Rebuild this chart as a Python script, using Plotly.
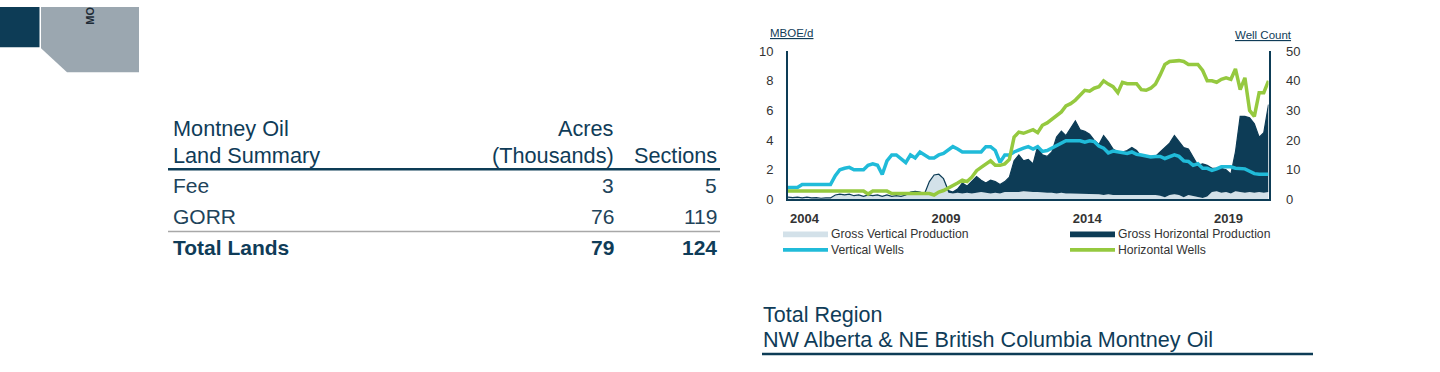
import plotly.graph_objects as go
import pandas as pd

# ---------------- data ----------------
table_header_left = ["Montney Oil", "Land Summary"]
table_col_acres_hdr = ["Acres", "(Thousands)"]
table_col_sections_hdr = "Sections"
table_rows = ["Fee", "GORR", "Total Lands"]
table_acres = [3, 76, 79]
table_sections = [5, 119, 124]

dates = pd.date_range(start="2003-06-01", periods=103, freq="2MS")

gross_vertical_prod = [
    0.15, 0.12, 0.15, 0.1, 0.15, 0.1, 0.12, 0.08, 0.1, 0.1,
    0.3, 0.35, 0.3, 0.35, 0.25, 0.3, 0.2, 0.3, 0.25, 0.3,
    0.2, 0.3, 0.2, 0.25, 0.2, 0.3, 0.4, 0.3, 0.3, 0.35,
    1.2, 1.65, 1.7, 1.4, 0.45, 0.4, 0.45, 0.4, 0.45, 0.4,
    0.45, 0.5, 0.45, 0.4, 0.45, 0.4, 0.5, 0.5, 0.45, 0.5,
    0.55, 0.5, 0.5, 0.5, 0.45, 0.45, 0.45, 0.4, 0.45, 0.4,
    0.4, 0.4, 0.4, 0.35, 0.35, 0.35, 0.35, 0.3, 0.35, 0.3,
    0.3, 0.3, 0.35, 0.3, 0.3, 0.3, 0.3, 0.35, 0.3, 0.25,
    0.15, 0.3, 0.35, 0.3, 0.15, 0.3, 0.25, 0.15, 0.1, 0.2,
    0.5, 0.55, 0.45, 0.5, 0.4, 0.55, 0.5, 0.45, 0.5, 0.45,
    0.5, 0.45, 0.5]

gross_horizontal_prod = [
    0, 0, 0, 0, 0, 0, 0, 0, 0, 0,
    0, 0, 0, 0, 0, 0, 0, 0, 0, 0,
    0, 0, 0, 0, 0, 0, 0.1, 0.25, 0.2, 0.05,
    0, 0, 0, 0, 0.15, 0.1, 0.25, 0.7, 0.45, 0.8,
    1.1, 0.8, 0.65, 0.9, 0.75, 0.6, 0.7, 1.0, 2.15, 2.5,
    2.05, 2.2, 1.9, 3.1, 2.55, 2.45, 2.75, 3.8, 4.15, 3.9,
    4.4, 4.9, 4.3, 4.25, 4.05, 3.65, 3.35, 4.0, 3.55, 3.1,
    2.9, 2.9, 2.95, 3.2, 3.0, 2.6, 2.6, 2.55, 2.6, 2.95,
    3.35, 3.5, 3.95, 3.6, 3.35, 3.1, 2.55, 2.15, 2.3, 2.1,
    1.6, 1.55, 1.65, 1.5, 1.3, 2.65, 5.1, 5.15, 5.0, 4.65,
    3.7, 4.05, 5.9]

vertical_wells = [
    4, 4, 4, 5, 5, 5, 5, 5, 5, 5,
    8, 10, 10.5, 10.8, 10, 10, 10, 11.5, 12, 11.5,
    8.4, 13, 15, 15, 13.5, 12.4, 15, 14, 16, 15,
    14, 14, 15, 15.5, 16.5, 17.8, 17, 16, 16, 16,
    16, 16, 17.8, 17.8, 16.5, 12.5, 15, 15, 16, 16.8,
    17.3, 17.8, 17, 17.8, 16.2, 16.5, 17.3, 18, 18.8, 19.8,
    19.8, 19.8, 19.8, 19.3, 19.8, 19.5, 18, 17.3, 15.7, 16.3,
    16, 15.8, 15.5, 16, 15.2, 15, 14.5, 14.3, 14.5, 14.5,
    13.8, 14.5, 15, 14.5, 13, 12.8, 11.5, 12, 10.5, 10.5,
    9.8, 10.3, 11, 11, 11, 10.5, 10.3, 10.3, 9.5, 8.7,
    8.5, 8.5, 8.5]

horizontal_wells = [
    2.8, 2.8, 2.8, 2.8, 2.8, 2.8, 2.8, 2.8, 2.8, 2.8,
    2.8, 2.8, 2.8, 2.8, 2.8, 2.8, 2.8, 1.8, 2.8, 2.8,
    2.8, 2.8, 2, 2, 2, 2, 2, 2, 2, 2,
    2, 1.5, 2.5, 3, 3.8, 4.5, 5.5, 6.5, 6, 7.5,
    9.7, 10.8, 12, 13, 11.5, 11.5, 12, 13.5, 21, 22.7,
    22.3, 23, 23.5, 22.5, 25, 25.8, 27, 28.2, 29.5, 31.5,
    32.3, 33.5, 35.2, 36.8, 36.5, 37.5, 38, 40, 38.9, 38,
    36, 39.5, 39, 39, 39, 37, 36.8, 37.5, 38.9, 42,
    45.5, 46.5, 46.8, 46.8, 46.5, 45.5, 45.5, 45.5, 43.5, 40,
    40, 39.5, 40.5, 41, 40.5, 44, 37, 41, 30, 28,
    36, 36, 40]

year_ticks = ["2004", "2009", "2014", "2019"]
left_ticks = [0, 2, 4, 6, 8, 10]
right_ticks = [0, 10, 20, 30, 40, 50]

# ---------------- styling ----------------
W, H = 1440, 372
NAVY = "#0d3c56"
LIGHT = "#d3e1e9"
CYAN = "#20bbd9"
GREEN = "#95c93f"
TXT = "#0f3c58"
ROWTXT = "#21435a"
GRAY_TXT = "#333333"
FONT = "Liberation Sans, Arial, sans-serif"


def px(x):
    return x / W


def py(y):
    return 1 - y / H


fig = go.Figure()

fig.add_trace(go.Scatter(
    x=dates, y=gross_vertical_prod, name="Gross Vertical Production",
    stackgroup="prod", mode="lines", line=dict(width=0, color=LIGHT),
    fillcolor=LIGHT, xaxis="x", yaxis="y"))
fig.add_trace(go.Scatter(
    x=dates, y=gross_horizontal_prod, name="Gross Horizontal Production",
    stackgroup="prod", mode="lines", line=dict(width=1.2, color=NAVY),
    fillcolor=NAVY, xaxis="x", yaxis="y"))
fig.add_trace(go.Scatter(
    x=dates, y=vertical_wells, name="Vertical Wells", mode="lines",
    line=dict(width=3.5, color=CYAN), xaxis="x", yaxis="y2"))
fig.add_trace(go.Scatter(
    x=dates, y=horizontal_wells, name="Horizontal Wells", mode="lines",
    line=dict(width=3.5, color=GREEN), xaxis="x", yaxis="y2"))

x_left, x_right = 788, 1268.5
y_top, y_bot = 46, 200.5

fig.update_layout(
    width=W, height=H, autosize=False,
    margin=dict(l=0, r=0, t=0, b=0),
    paper_bgcolor="white", plot_bgcolor="white",
    showlegend=False,
    font=dict(family=FONT, color=GRAY_TXT),
    xaxis=dict(
        domain=[px(x_left), px(x_right)],
        range=[dates[0], dates[-1]],
        type="date",
        tickvals=[pd.Timestamp(f"{y}-01-01") for y in year_ticks],
        ticktext=[f"<b>{y}</b>" for y in year_ticks],
        tickfont=dict(size=13, color=GRAY_TXT, family=FONT),
        ticks="", ticklabelstandoff=6,
        showline=True, linecolor=NAVY, linewidth=2,
        showgrid=False, zeroline=False, anchor="y",
    ),
    yaxis=dict(
        domain=[py(y_bot), py(y_top)],
        range=[0, 10],
        tickvals=left_ticks,
        tickfont=dict(size=13, color=GRAY_TXT, family=FONT),
        ticks="", ticklabelstandoff=10,
        showline=True, linecolor=NAVY, linewidth=2,
        showgrid=False, zeroline=False, anchor="x",
    ),
    yaxis2=dict(
        domain=[py(y_bot), py(y_top)],
        range=[0, 50],
        overlaying="y", side="right",
        tickvals=right_ticks,
        tickfont=dict(size=13, color=GRAY_TXT, family=FONT),
        ticks="", ticklabelstandoff=13,
        showline=True, linecolor=NAVY, linewidth=2,
        showgrid=False, zeroline=False, anchor="x",
    ),
)

shapes = []
annotations = []


def text(x, y, s, size, color, xanchor="left", bold=False, yanchor="middle", angle=0):
    if bold:
        s = f"<b>{s}</b>"
    annotations.append(dict(
        x=px(x), y=py(y), xref="paper", yref="paper", text=s, showarrow=False,
        xanchor=xanchor, yanchor=yanchor, textangle=angle,
        font=dict(size=size, color=color, family=FONT), borderpad=0, borderwidth=0))


def hline(x0, x1, y, color, width):
    shapes.append(dict(type="line", xref="paper", yref="paper",
                       x0=px(x0), x1=px(x1), y0=py(y), y1=py(y),
                       line=dict(color=color, width=width)))


def rect(x0, y0, x1, y1, color):
    shapes.append(dict(type="rect", xref="paper", yref="paper",
                       x0=px(x0), x1=px(x1), y0=py(y0), y1=py(y1),
                       fillcolor=color, line=dict(width=0)))


# top-left decoration
rect(0, 0, 39.5, 42, NAVY)
shapes.append(dict(
    type="path", xref="paper", yref="paper",
    path=(f"M {px(41)},{py(0)} L {px(139)},{py(0)} L {px(139)},{py(68)} "
          f"L {px(67)},{py(68)} L {px(41)},{py(43)} Z"),
    fillcolor="#9ba7b0", line=dict(width=0)))
text(90, 9, "MO", 11, "#1d2b36", xanchor="center", bold=True, angle=-90)

# table
HDR = 21.7
ROW = 21
text(173, 126.5, table_header_left[0], HDR, TXT)
text(173, 154.5, table_header_left[1], HDR, TXT)
text(614, 126.5, table_col_acres_hdr[0], HDR, TXT, xanchor="right")
text(614, 154.5, table_col_acres_hdr[1], HDR, TXT, xanchor="right")
text(717, 154.5, table_col_sections_hdr, HDR, TXT, xanchor="right")
hline(168, 720, 169, NAVY, 2.5)
row_y = [186.5, 218, 250.5]
for i, name in enumerate(table_rows):
    bold = (i == len(table_rows) - 1)
    col = TXT if bold else ROWTXT
    text(173, row_y[i], name, ROW, col, bold=bold)
    text(614, row_y[i], str(table_acres[i]), ROW, col, xanchor="right", bold=bold)
    text(717, row_y[i], str(table_sections[i]), ROW, col, xanchor="right", bold=bold)
hline(168, 720, 234, "#a8a8a8", 1.5)

# chart axis titles
text(770, 27, "<u>MBOE/d</u>", 11.5, TXT)
text(1292, 29, "<u>Well Count</u>", 11.5, TXT, xanchor="right")

# legend (manual)
legend_items = [
    ("Gross Vertical Production", LIGHT, 783, 237, 6),
    ("Gross Horizontal Production", NAVY, 1070, 237, 6),
    ("Vertical Wells", CYAN, 783, 253, 4),
    ("Horizontal Wells", GREEN, 1070, 253, 4),
]
for label, color, x0, yc, h in legend_items:
    rect(x0, yc - h / 2, x0 + 45, yc + h / 2, color)
    text(x0 + 48, yc, label, 12.2, GRAY_TXT)

# bottom title
text(763, 321, "Total Region", 21.5, TXT)
text(763, 346, "NW Alberta &amp; NE British Columbia Montney Oil", 21.6, TXT)
hline(762, 1313, 361.5, NAVY, 2.5)

fig.update_layout(shapes=shapes, annotations=annotations)

fig.write_html(
    "out.html", config={"displayModeBar": False},
    post_script=("document.documentElement.style.margin='0';"
                 "document.body.style.margin='0';"
                 "var d=document.getElementById('{plot_id}');"
                 "d.style.position='fixed';d.style.top='0px';d.style.left='0px';"))
